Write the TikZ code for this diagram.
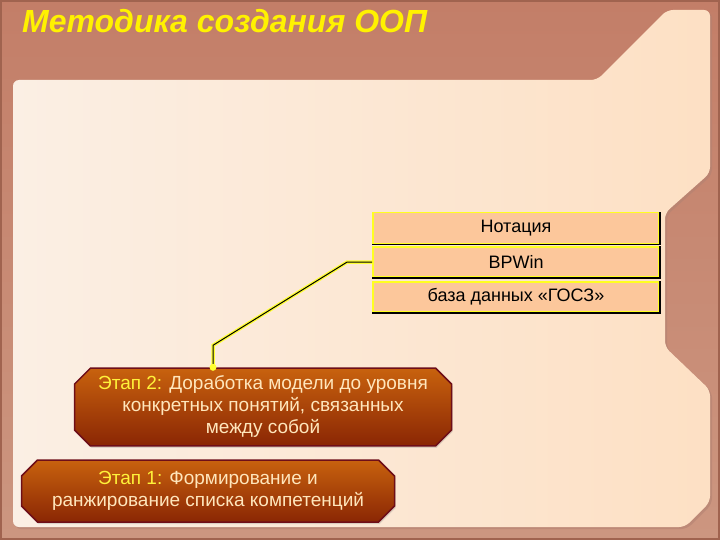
\documentclass[tikz,border=0pt]{standalone}
\usepackage{fontspec}
\setmainfont{Liberation Sans}
\usetikzlibrary{positioning,shapes.misc,shadows}
\definecolor{framebrown}{HTML}{C37E68}
\definecolor{framelow}{HTML}{CC9680}
\definecolor{frameedge}{HTML}{A0634F}
\definecolor{creamleft}{HTML}{FBEFE4}
\definecolor{creamright}{HTML}{FDE0C4}
\definecolor{notepeach}{HTML}{FCC79B}
\definecolor{noteyellow}{HTML}{FFFF20}
\definecolor{stagetop}{HTML}{C8620E}
\definecolor{stagebottom}{HTML}{8A2604}
\definecolor{stageedge}{HTML}{6E0E18}
\definecolor{stagetext}{HTML}{FFE6BC}
\definecolor{stageyellow}{HTML}{FFF23A}
\definecolor{wireyellow}{HTML}{FFFF30}
\tikzset{
  titletext/.style={text=yellow, font=\fontsize{32}{36}\selectfont\bfseries\itshape, inner sep=0pt},
  notebox/.style={draw=noteyellow, line width=1.6pt, fill=notepeach, minimum width=286pt,
    minimum height=31pt, inner sep=0pt, font=\fontsize{18}{20}\selectfont},
  stagebox/.style={chamfered rectangle, chamfered rectangle xsep=8pt, chamfered rectangle ysep=8pt,
    draw=stageedge, line width=1.5pt, top color=stagetop, bottom color=stagebottom,
    text=stagetext, align=center, inner sep=0pt, font=\fontsize{19}{22}\selectfont,
    drop shadow={opacity=0.25, shadow xshift=1pt, shadow yshift=-2pt}},
  wire/.style={draw=black, line width=1pt, preaction={draw=wireyellow, line width=3.5pt}}
}
\newcommand{\stagelabel}[1]{{\color{stageyellow}#1}}

\begin{document}
\begin{tikzpicture}[x=1pt, y=-1pt]
  \useasboundingbox (0,0) rectangle (720,540);
  % frame and panel
  \shade[top color=framebrown, bottom color=framelow] (0,0) rectangle (720,540);
  \draw[frameedge, line width=4pt] (0,0) rectangle (720,540);
  \fill[frameedge!80, opacity=0.6, rounded corners=6pt, shift={(2pt,-2pt)}]
    (13,527) -- (13,80) -- (597,80) -- (667,10) -- (710,10) -- (710,173) -- (665,213)
    -- (665,347) -- (710,390) -- (710,502) -- (685,527) -- cycle;
  \shade[left color=creamleft, right color=creamright, rounded corners=6pt]
    (13,527) -- (13,80) -- (597,80) -- (667,10) -- (710,10) -- (710,173) -- (665,213)
    -- (665,347) -- (710,390) -- (710,502) -- (685,527) -- cycle;

  \node[titletext, anchor=base west] (title) at (22,33) {Методика создания ООП};

  % tools
  \node[notebox] (notation) at (516,228) {Нотация};
  \node[notebox, minimum height=30pt] (bpwin) at (516,262) {BPWin};
  \node[notebox, minimum height=30pt] (gosz) at (516,297) {база данных «ГОСЗ»};
  \foreach \n in {notation, bpwin, gosz}{
    \draw[black, line width=1.6pt] (\n.south west) -- (\n.south east) -- (\n.north east);
  };

  % stages
  \node[stagebox, minimum width=377pt, minimum height=75pt] (stage2) at (263,407)
    {\stagelabel{Этап 2:} Доработка модели до уровня\\ конкретных понятий, связанных\\ между собой};
  \node[stagebox, minimum width=373pt, minimum height=62pt] (stage1) at (208,491)
    {\stagelabel{Этап 1:} Формирование и\\ ранжирование списка компетенций};

  \coordinate (pin) at ([xshift=-50pt]stage2.north);
  \draw[wire] (bpwin.west) -- ++(-25,0) -- ([yshift=22pt]pin) -- (pin);
  \fill[wireyellow] (pin) circle (3.5pt);
\end{tikzpicture}
\end{document}
